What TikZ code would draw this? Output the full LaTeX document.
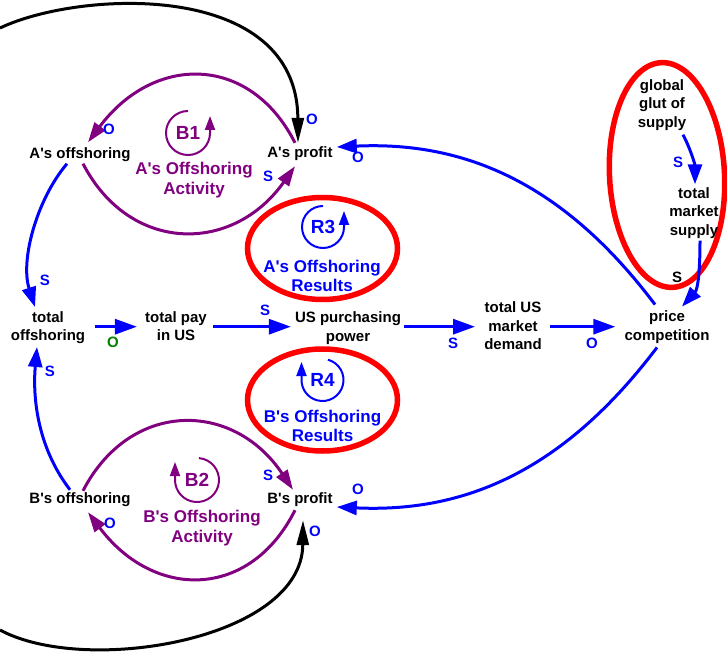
\documentclass[tikz,border=0pt]{standalone}
\usepackage{fontspec}
\setmainfont{Liberation Sans}[Ligatures=TeXOff]
\usetikzlibrary{arrows.meta}
\definecolor{cldpurple}{RGB}{128,0,128}
\definecolor{cldblue}{RGB}{0,0,255}
\definecolor{cldred}{RGB}{255,0,0}
\definecolor{cldgreen}{RGB}{0,128,0}
\begin{document}
\begin{tikzpicture}[x=1pt,y=1pt,
  var/.style={font=\bfseries\fontsize{15}{18.5}\selectfont, align=center, inner sep=2pt, text=black},
  pol/.style={font=\bfseries\fontsize{15}{17}\selectfont, text=cldblue, inner sep=0pt},
  lname/.style={font=\bfseries\fontsize{17}{19.5}\selectfont, align=center, inner sep=0pt},
  lid/.style={font=\bfseries\fontsize{19}{21}\selectfont, inner sep=0pt},
  blu/.style={draw=cldblue, line width=3pt, -{Triangle[length=22pt,width=15pt]}},
  bluc/.style={draw=cldblue, line width=3pt, -{Triangle[length=20pt,width=14pt]}},
  pur/.style={draw=cldpurple, line width=3pt, -{Triangle[length=20pt,width=13pt]}},
  blk/.style={draw=black, line width=3pt, -{Triangle[length=25pt,width=12pt]}},
  loopP/.style={draw=cldpurple, line width=2pt, -{Triangle[length=14pt,width=10pt]}},
  loopB/.style={draw=cldblue, line width=2pt, -{Triangle[length=14pt,width=10pt]}},
  ring/.style={draw=cldred, line width=5.5pt}
]
\useasboundingbox (0,0) rectangle (727,654);
% red rings
\draw[ring] (322.5,405.5) ellipse [x radius=75, y radius=51];
\draw[ring] (322.5,254) ellipse [x radius=75, y radius=51];
\draw[ring, rotate around={3:(667,479)}] (667,479) ellipse [x radius=57.5, y radius=112.5];

% variables
\node[var] (aoff) at (80,499.5) {A's offshoring};
\node[var] (aprof) at (300,500) {A's profit};
\node[var] (toff) at (48,326.5) {total\\offshoring};
\node[var] (tpay) at (176,328) {total pay\\in US};
\node[var] (uspp) at (348,326) {US purchasing\\power};
\node[var] (usmd) at (513,328) {total US\\market\\demand};
\node[var] (pc) at (667,327) {price\\competition};
\node[var] (glut) at (662,549) {global\\glut of\\supply};
\node[var] (tms) at (694,441) {total\\market\\supply};
\node[var] (boff) at (80,154) {B's offshoring};
\node[var] (bprof) at (300,154) {B's profit};

% loop identifiers
\node[lid, text=cldpurple] (b1) at (188,521) {B1};
\node[lid, text=cldblue] (r3) at (323,427) {R3};
\node[lid, text=cldblue] (r4) at (322.5,274) {R4};
\node[lid, text=cldpurple] (b2) at (197,174) {B2};
\draw[loopP] ([shift={(90:22)}]b1.center) arc[start angle=90, end angle=360, radius=22] -- ++(0,17);
\draw[loopB] ([shift={(90:21)}]r3.center) arc[start angle=90, end angle=360, radius=21] -- ++(0,16);
\draw[loopB] ([shift={(75:21)}]r4.center) arc[start angle=75, end angle=-180, radius=21] -- ++(0,18);
\draw[loopP] ([shift={(85:22)}]b2.center) arc[start angle=85, end angle=-180, radius=22] -- ++(0,18);

\node[lname, text=cldpurple] (b1n) at (194,474) {A's Offshoring\\Activity};
\node[lname, text=cldblue] (r3n) at (322,378) {A's Offshoring\\Results};
\node[lname, text=cldblue] (r4n) at (322.5,228) {B's Offshoring\\Results};
\node[lname, text=cldpurple] (b2n) at (202,126) {B's Offshoring\\Activity};

% black outer links
\coordinate (ctop) at (0,626);
\coordinate (cbot) at (0,24);
\draw[blk] (ctop) .. controls (80,664) and (297,674) .. ([shift={(-2,2)}]aprof.north);
\draw[blk] (cbot) .. controls (85,-22) and (302,14) .. ([shift={(3,-11)}]bprof.south);

% purple balancing loops
\draw[pur] ([shift={(-5,2)}]aprof.north) .. controls (250,600) and (154,600) .. ([shift={(8,3)}]aoff.north);
\draw[pur] ([shift={(3,0)}]aoff.south) .. controls (130,400) and (233,400) .. ([shift={(-5,-3)}]aprof.south);
\draw[pur] ([shift={(3,0)}]boff.north) .. controls (130,254) and (233,254) .. ([shift={(-7,1)}]bprof.north);
\draw[pur] ([shift={(-5,-1)}]bprof.south) .. controls (250,54) and (154,54) .. ([shift={(8,-3)}]boff.south);

% blue links
\coordinate (mid) at (0,327.3);
\draw[bluc] ([shift={(-13,0)}]aoff.south) .. controls (37,455) and (20,394) .. ([shift={(-13,2)}]toff.north);
\draw[bluc] ([shift={(-10,1)}]boff.north) .. controls (35,210) and (33,262) .. ([shift={(-11,-1)}]toff.south);
\draw[blu] ([xshift=8pt]toff.east |- mid) -- ([xshift=-6pt]tpay.west |- mid);
\draw[blu] ([xshift=4pt]tpay.east |- mid) -- ([xshift=-2pt]uspp.west |- mid);
\draw[blu] ([xshift=1pt]uspp.east |- mid) -- ([xshift=-7pt]usmd.west |- mid);
\draw[blu] ([xshift=6pt]usmd.east |- mid) -- ([xshift=-7pt]pc.west |- mid);
\draw[bluc] ([shift={(21,-2)}]glut.south) .. controls (691,504) and (695,489) .. ([shift={(1,1)}]tms.north);
\draw[bluc] ([shift={(6,0)}]tms.south) .. controls (700,384) and (698,365) .. ([shift={(15,2)}]pc.north);
\draw[bluc] ([shift={(-12,4)}]pc.north) .. controls (565,469) and (467,513) .. ([shift={(2,7)}]aprof.east);
\draw[bluc] ([shift={(-10,-2)}]pc.south) .. controls (565,185) and (467,141) .. ([shift={(2,-7)}]bprof.east);

% polarity labels
\node[pol] (o1) at (109,525) {O};
\node[pol] (o2) at (312,535) {O};
\node[pol] (s1) at (268,478) {S};
\node[pol] (o3) at (358,497) {O};
\node[pol] (s2) at (45,374) {S};
\node[pol] (s3) at (50,283) {S};
\node[pol, text=cldgreen] (o4) at (113,312) {O};
\node[pol] (s4) at (265,344) {S};
\node[pol] (s5) at (453,311) {S};
\node[pol] (o5) at (592,311) {O};
\node[pol] (s6) at (678,492) {S};
\node[pol, text=black] (s7) at (677,377) {S};
\node[pol] (s8) at (268,179) {S};
\node[pol] (o6) at (110,131) {O};
\node[pol] (o7) at (315,123) {O};
\node[pol] (o8) at (358,165) {O};
\end{tikzpicture}
\end{document}
